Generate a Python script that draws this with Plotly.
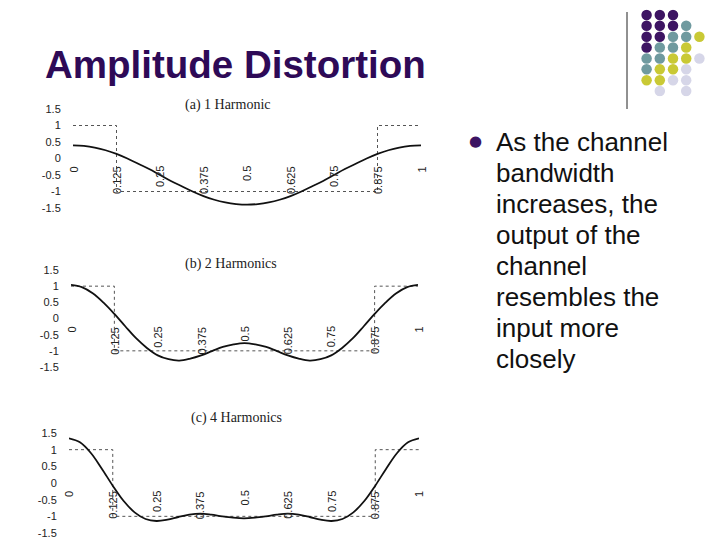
import plotly.graph_objects as go

# ---------------- data ----------------
x_pos = [0, 0.03125, 0.0625, 0.09375, 0.125, 0.15625, 0.1875, 0.21875, 0.25,
         0.28125, 0.3125, 0.34375, 0.375, 0.40625, 0.4375, 0.46875, 0.5,
         0.53125, 0.5625, 0.59375, 0.625, 0.65625, 0.6875, 0.71875, 0.75,
         0.78125, 0.8125, 0.84375, 0.875, 0.90625, 0.9375, 0.96875, 1]

harm1 = [0.40, 0.38, 0.33, 0.25, 0.14, 0.00, -0.16, -0.32, -0.50, -0.68, -0.84,
         -1.00, -1.14, -1.25, -1.33, -1.38, -1.40, -1.38, -1.33, -1.25, -1.14,
         -1.00, -0.84, -0.68, -0.50, -0.32, -0.16, 0.00, 0.14, 0.25, 0.33, 0.38, 0.40]

harm2 = [1.04, 0.97, 0.78, 0.49, 0.14, -0.24, -0.61, -0.91, -1.14, -1.26, -1.30,
         -1.24, -1.14, -1.01, -0.88, -0.80, -0.76, -0.80, -0.88, -1.01, -1.14,
         -1.24, -1.30, -1.26, -1.14, -0.91, -0.61, -0.24, 0.14, 0.49, 0.78, 0.97, 1.04]

harm4 = [1.34, 1.22, 0.90, 0.43, -0.08, -0.54, -0.88, -1.08, -1.14, -1.10, -1.02,
         -0.95, -0.92, -0.95, -1.00, -1.04, -1.06, -1.04, -1.00, -0.95, -0.92,
         -0.95, -1.02, -1.10, -1.14, -1.08, -0.88, -0.54, -0.08, 0.43, 0.90, 1.22, 1.34]

square_x = [0, 0.125, 0.125, 0.875, 0.875, 1]
square_y = [1, 1, -1, -1, 1, 1]

x_ticks = [0, 0.125, 0.25, 0.375, 0.5, 0.625, 0.75, 0.875, 1]
x_tick_labels = ["0", "0.125", "0.25", "0.375", "0.5", "0.625", "0.75", "0.875", "1"]
y_ticks = [1.5, 1, 0.5, 0, -0.5, -1, -1.5]
y_tick_labels = ["1.5", "1", "0.5", "0", "-0.5", "-1", "-1.5"]

panel_titles = ["(a) 1 Harmonic", "(b) 2 Harmonics", "(c) 4 Harmonics"]
slide_title = "Amplitude Distortion"
bullet_lines = ["As the channel", "bandwidth", "increases, the", "output of the",
                "channel", "resembles the", "input more", "closely"]

# decorative dot grid (column, row, colour index)
dot_cols = [0, 1, 2,
            0, 1, 2, 3,
            0, 1, 2, 3, 4,
            0, 1, 2, 3,
            0, 1, 2, 3, 4,
            0, 1, 2, 3,
            0, 1, 2, 3,
            1, 3]
dot_rows = [0, 0, 0,
            1, 1, 1, 1,
            2, 2, 2, 2, 2,
            3, 3, 3, 3,
            4, 4, 4, 4, 4,
            5, 5, 5, 5,
            6, 6, 6, 6,
            7, 7]
dot_kind = [0, 0, 0,
            0, 0, 0, 1,
            0, 0, 1, 1, 2,
            0, 1, 1, 2,
            1, 1, 2, 2, 3,
            1, 2, 2, 3,
            2, 2, 3, 3,
            3, 3]
dot_palette = ["#3d1463", "#6f9a9f", "#c9c935", "#d6d6e8"]

# ---------------- layout geometry ----------------
W, H = 720, 540
OFF = 8  # the page body adds an 8px margin around the figure
def px(x):
    return (x - OFF) / W
def py(y):
    return 1 - (y - OFF) / H

panels = [
    dict(curve=harm1, xd=[px(73), px(421)], yd=[py(208), py(109)], title_xy=(228, 105)),
    dict(curve=harm2, xd=[px(71), px(418)], yd=[py(367), py(270)], title_xy=(231, 264)),
    dict(curve=harm4, xd=[px(69), px(419)], yd=[py(533), py(433)], title_xy=(236, 418)),
]

fig = go.Figure()
annotations = []
layout_axes = {}

for i, p in enumerate(panels):
    n = "" if i == 0 else str(i + 1)
    xa, ya = "x" + n, "y" + n
    fig.add_trace(go.Scatter(x=square_x, y=square_y, xaxis=xa, yaxis=ya, mode="lines",
                             line=dict(color="#555555", width=1, dash="dot"),
                             hoverinfo="skip", showlegend=False))
    fig.add_trace(go.Scatter(x=x_pos, y=p["curve"], xaxis=xa, yaxis=ya, mode="lines",
                             line=dict(color="#111111", width=1.8, shape="spline"),
                             showlegend=False))
    layout_axes["xaxis" + n] = dict(domain=p["xd"], range=[0, 1], anchor=ya,
                                    showgrid=False, zeroline=False, showline=False,
                                    showticklabels=False, ticks="", fixedrange=True,
                                    automargin=False)
    layout_axes["yaxis" + n] = dict(domain=p["yd"], range=[-1.5, 1.5], anchor=xa,
                                    showgrid=False, zeroline=False, showline=False,
                                    tickvals=y_ticks, ticktext=y_tick_labels,
                                    ticks="outside", ticklen=9, tickcolor="rgba(0,0,0,0)",
                                    tickfont=dict(family="Liberation Sans, Arial", size=11,
                                                  color="#222222"),
                                    fixedrange=True, automargin=False)
    for tv, tl in zip(x_ticks, x_tick_labels):
        annotations.append(dict(x=tv, y=0, xref=xa, yref=ya, text=tl, showarrow=False,
                                textangle=-90, xanchor="center", yanchor="top", yshift=-6,
                                font=dict(family="Liberation Sans, Arial", size=11,
                                          color="#222222")))
    tx, ty = p["title_xy"]
    annotations.append(dict(x=px(tx), y=py(ty), xref="paper", yref="paper",
                            text=panel_titles[i], showarrow=False,
                            xanchor="center", yanchor="middle",
                            font=dict(family="Liberation Serif, Times New Roman", size=14,
                                      color="#222222")))

# decorative dots on their own axes
fig.add_trace(go.Scatter(x=dot_cols, y=dot_rows, xaxis="x4", yaxis="y4", mode="markers",
                         marker=dict(size=10.5, color=[dot_palette[k] for k in dot_kind]),
                         hoverinfo="skip", showlegend=False))
layout_axes["xaxis4"] = dict(domain=[px(640), px(706)], range=[-0.5, 4.5], anchor="y4",
                             visible=False, fixedrange=True, automargin=False)
layout_axes["yaxis4"] = dict(domain=[py(96.5), py(9.5)], range=[7.5, -0.5], anchor="x4",
                             visible=False, fixedrange=True, automargin=False)

# title
annotations.append(dict(x=px(43), y=py(64), xref="paper", yref="paper", text="<b>" + slide_title + "</b>",
                        showarrow=False, xanchor="left", yanchor="middle",
                        font=dict(family="Liberation Sans, Arial", size=38.5, color="#2e0a57")))

# bullet
annotations.append(dict(x=px(475), y=py(141), xref="paper", yref="paper", text="●",
                        showarrow=False, xanchor="center", yanchor="middle",
                        font=dict(family="DejaVu Sans", size=15, color="#3d1463")))
for j, line in enumerate(bullet_lines):
    annotations.append(dict(x=px(494), y=py(142 + 31 * j), xref="paper", yref="paper",
                            text=line, showarrow=False, xanchor="left", yanchor="middle",
                            font=dict(family="Liberation Sans, Arial", size=26, color="#111111")))

fig.update_layout(
    template="none",
    width=W, height=H, margin=dict(l=0, r=0, t=0, b=0, pad=0, autoexpand=False),
    paper_bgcolor="white", plot_bgcolor="white",
    annotations=annotations,
    shapes=[dict(type="line", xref="paper", yref="paper", x0=px(627), x1=px(627),
                 y0=py(12), y1=py(109), line=dict(color="#222222", width=1))],
    **layout_axes,
)

fig.write_html("out.html")
